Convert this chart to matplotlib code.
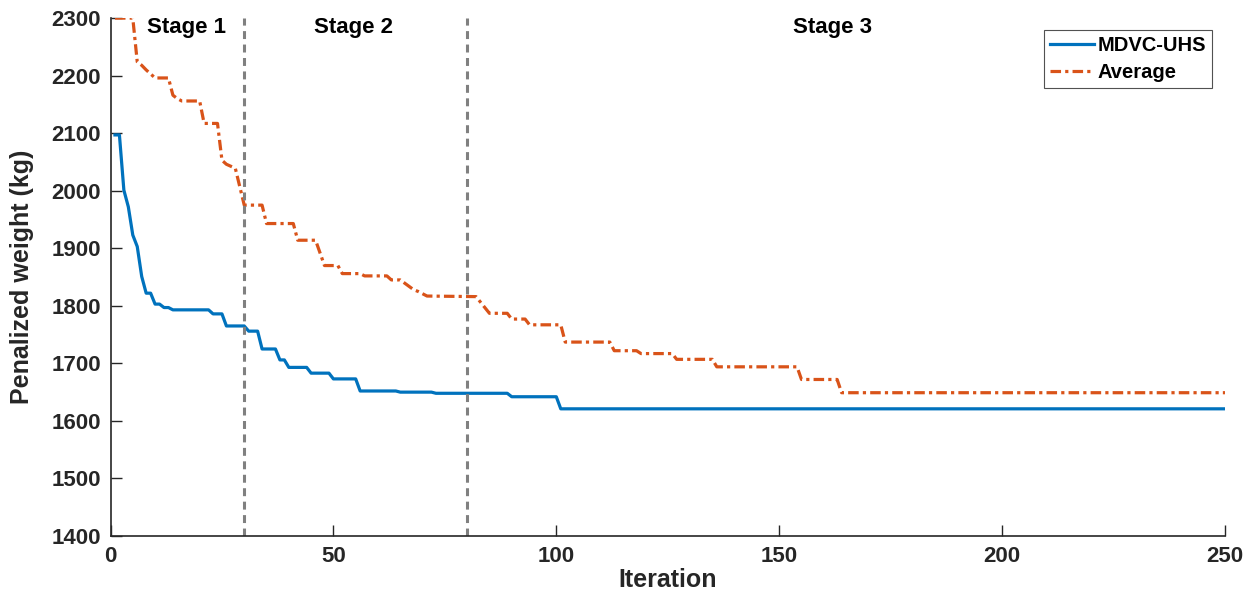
import matplotlib.pyplot as plt

plt.rcParams['font.family'] = ['Liberation Sans', 'DejaVu Sans']
plt.rcParams['font.weight'] = 'bold'

# MDVC-UHS best penalized weight (iteration, kg) at the breakpoints of the curve
best_iter = [1, 2, 3, 4, 5, 6, 7, 8, 9, 10, 11, 12, 13, 14, 22, 23, 25, 26, 30, 31,
             33, 34, 37, 38, 39, 40, 44, 45, 49, 50, 55, 56, 64, 65, 72, 73, 89, 90,
             100, 101, 250]
best_weight = [2097, 2097, 2001, 1972, 1923, 1903, 1851, 1822, 1822, 1803, 1803, 1797,
               1797, 1793, 1793, 1786, 1786, 1765, 1765, 1756, 1756, 1725, 1725, 1706,
               1706, 1693, 1693, 1683, 1683, 1673, 1673, 1652, 1652, 1650, 1650, 1648,
               1648, 1642, 1642, 1621, 1621]

# average penalized weight over runs
avg_iter = [1, 5, 6, 7, 8, 10, 13, 14, 15, 16, 20, 21, 24, 25, 26, 28, 30, 34, 35, 41,
            42, 46, 48, 51, 52, 56, 57, 62, 63, 65, 68, 69, 71, 82, 85, 89, 90, 93, 94,
            101, 102, 112, 113, 118, 119, 126, 127, 135, 136, 154, 155, 163, 164, 250]
avg_weight = [2300, 2300, 2224, 2218, 2210, 2196, 2196, 2166, 2160, 2156, 2156, 2117,
              2117, 2053, 2046, 2039, 1975, 1975, 1943, 1943, 1914, 1914, 1870, 1870,
              1856, 1856, 1852, 1852, 1845, 1845, 1828, 1825, 1817, 1816, 1787, 1787,
              1777, 1777, 1767, 1767, 1737, 1737, 1722, 1722, 1717, 1717, 1707, 1707,
              1694, 1694, 1672, 1672, 1649, 1649]

stage_bounds = [30, 80]
stage_labels = ['Stage 1', 'Stage 2', 'Stage 3']
stage_label_x = [17, 54.5, 162]

blue = '#0072BD'
orange = '#D95319'

fig = plt.figure(figsize=(12.5, 6.04), dpi=100)
ax = fig.add_axes([0.0884, 0.1126, 0.8916, 0.8574])

ax.plot(best_iter, best_weight, color=blue, lw=2.3, label='MDVC-UHS')
ax.plot(avg_iter, avg_weight, color=orange, lw=2.3,
        linestyle=(0, (3.3, 1.3, 1.0, 1.3)), label='Average')

for xb in stage_bounds:
    ax.axvline(xb, color='#808080', lw=2.2, linestyle=(0, (2.6, 1.8)))

for lab, xs in zip(stage_labels, stage_label_x):
    ax.text(xs, 2283, lab, ha='center', va='center', fontsize=16,
            fontweight='bold', color='black')

ax.set_xlim(0, 250)
ax.set_ylim(1400, 2300)
ax.set_xticks([0, 50, 100, 150, 200, 250])
ax.set_yticks(range(1400, 2301, 100))
ax.tick_params(direction='in', length=8, width=1, labelsize=16, colors='#262626', pad=7)
for lbl in ax.get_xticklabels() + ax.get_yticklabels():
    lbl.set_fontweight('bold')

ax.spines['top'].set_visible(False)
ax.spines['right'].set_visible(False)
for s in ['left', 'bottom']:
    ax.spines[s].set_linewidth(1.2)
    ax.spines[s].set_color('#262626')

ax.set_xlabel('Iteration', fontsize=18, fontweight='bold', color='#262626', labelpad=1)
ax.set_ylabel('Penalized weight (kg)', fontsize=18, fontweight='bold', color='#262626', labelpad=12)

leg = ax.legend(loc='upper right', bbox_to_anchor=(0.9884, 0.977), borderaxespad=0,
                fontsize=14.5, frameon=True, fancybox=False, handlelength=2.15,
                handletextpad=0.2, borderpad=0.3, labelspacing=0.4)
leg.get_frame().set_edgecolor('#262626')
leg.get_frame().set_linewidth(0.8)
for t in leg.get_texts():
    t.set_fontweight('bold')

fig.savefig('out.png', dpi=100)
